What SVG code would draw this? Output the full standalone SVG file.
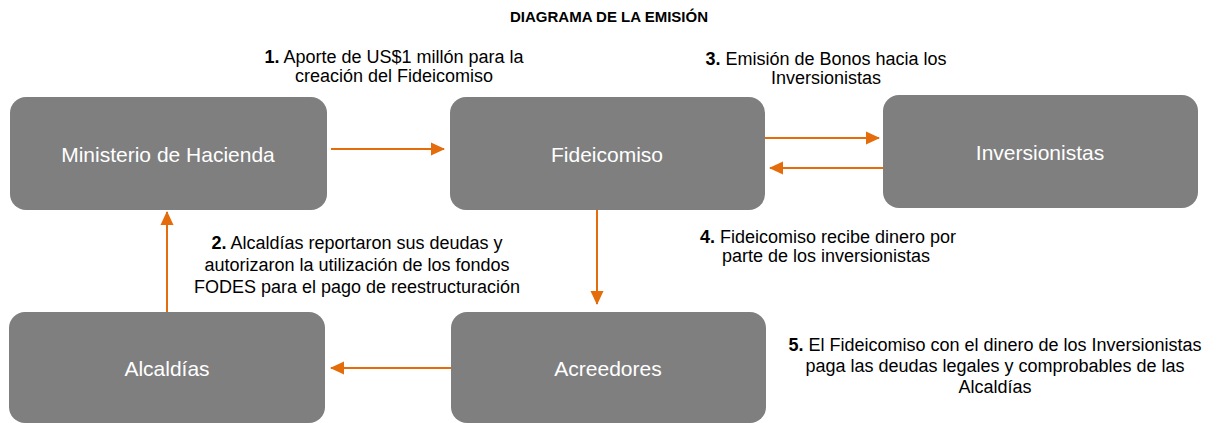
<svg xmlns="http://www.w3.org/2000/svg" width="1219" height="423" viewBox="0 0 1219 423">
<defs>
<style>
.box{fill:#7f7f7f;}
.nt{font-family:"Liberation Sans",Arial,sans-serif;font-size:21px;fill:#ffffff;text-anchor:middle;}
.lb{font-family:"Liberation Sans",Arial,sans-serif;font-size:18px;fill:#000000;text-anchor:middle;}
.lb tspan.b{font-weight:bold;}
.title{font-family:"Liberation Sans",Arial,sans-serif;font-size:15px;font-weight:bold;fill:#000;text-anchor:middle;}
.conn{stroke:#e46c0a;stroke-width:2;fill:none;marker-end:url(#ah);}
</style>
<marker id="ah" markerWidth="14" markerHeight="14" refX="13" refY="7" orient="auto" markerUnits="userSpaceOnUse">
<path d="M0,0.5 L14,7 L0,13.5 Z" fill="#e46c0a"/>
</marker>
</defs>
<rect width="1219" height="423" fill="#ffffff"/>
<text class="title" x="609" y="22">DIAGRAMA DE LA EMISIÓN</text>

<g id="ministerio">
<rect class="box" x="10" y="97" width="317" height="113" rx="16"/>
<text class="nt" x="168" y="162">Ministerio de Hacienda</text>
</g>
<g id="fideicomiso">
<rect class="box" x="450" y="97" width="315" height="113" rx="16"/>
<text class="nt" x="607" y="162">Fideicomiso</text>
</g>
<g id="inversionistas">
<rect class="box" x="883" y="95" width="315" height="113" rx="16"/>
<text class="nt" x="1040" y="160">Inversionistas</text>
</g>
<g id="alcaldias">
<rect class="box" x="9" y="312" width="316" height="111" rx="16"/>
<text class="nt" x="167" y="376">Alcaldías</text>
</g>
<g id="acreedores">
<rect class="box" x="451" y="312" width="315" height="111" rx="16"/>
<text class="nt" x="608" y="376">Acreedores</text>
</g>

<g id="connectors">
<line class="conn" x1="331" y1="149" x2="444" y2="149"/>
<line class="conn" x1="765" y1="138" x2="879" y2="138"/>
<line class="conn" x1="883" y1="168" x2="770" y2="168"/>
<line class="conn" x1="597" y1="210" x2="597" y2="304"/>
<line class="conn" x1="167" y1="312" x2="167" y2="212"/>
<line class="conn" x1="451" y1="368" x2="331" y2="368"/>
</g>

<g id="labels">
<text class="lb" x="394" y="63"><tspan class="b">1.</tspan> Aporte de US$1 millón para la</text>
<text class="lb" x="394" y="82">creación del Fideicomiso</text>
<text class="lb" x="826" y="65"><tspan class="b">3.</tspan> Emisión de Bonos hacia los</text>
<text class="lb" x="826" y="84">Inversionistas</text>
<text class="lb" x="828" y="243"><tspan class="b">4.</tspan> Fideicomiso recibe dinero por</text>
<text class="lb" x="826" y="262">parte de los inversionistas</text>
<text class="lb" x="357" y="249"><tspan class="b">2.</tspan> Alcaldías reportaron sus deudas y</text>
<text class="lb" x="357" y="271">autorizaron la utilización de los fondos</text>
<text class="lb" x="357" y="293">FODES para el pago de reestructuración</text>
<text class="lb" x="995" y="351"><tspan class="b">5.</tspan> El Fideicomiso con el dinero de los Inversionistas</text>
<text class="lb" x="995" y="372">paga las deudas legales y comprobables de las</text>
<text class="lb" x="995" y="393">Alcaldías</text>
</g>
</svg>
